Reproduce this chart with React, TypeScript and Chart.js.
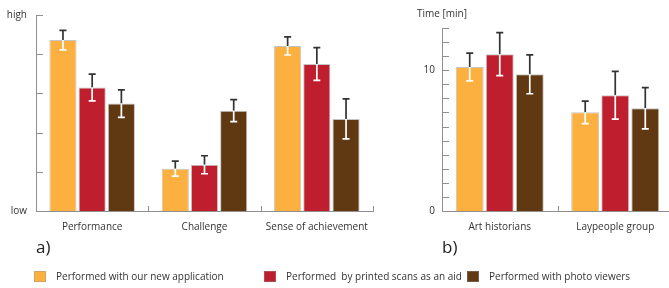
import React, { useEffect, useRef } from 'react';
import { Chart, registerables } from 'chart.js';

Chart.register(...registerables);

// ---------- data ----------
const seriesLabels = [
  'Performed with our new application',
  'Performed  by printed scans as an aid',
  'Performed with photo viewers',
];
const seriesColors = ['#FBB040', '#BE1E2D', '#603913'];

const ratingCategories = ['Performance', 'Challenge', 'Sense of achievement'];
const ratingNewApp = [4.36, 1.08, 4.21];
const ratingNewAppErr = [0.25, 0.19, 0.23];
const ratingScans = [3.15, 1.18, 3.75];
const ratingScansErr = [0.34, 0.23, 0.42];
const ratingViewers = [2.74, 2.56, 2.35];
const ratingViewersErr = [0.35, 0.28, 0.51];
const ratingTickLabels: Record<number, string> = { 0: 'low', 5: 'high' };

const timeCategories = ['Art historians', 'Laypeople group'];
const timeNewApp = [10.23, 7.01];
const timeNewAppErr = [0.99, 0.8];
const timeScans = [11.14, 8.22];
const timeScansErr = [1.53, 1.7];
const timeViewers = [9.71, 7.3];
const timeViewersErr = [1.38, 1.46];
const timeTickLabels: Record<number, string> = { 0: '0', 10: '10' };

// ---------- style ----------
const FONT = "'Open Sans', 'Noto Sans', sans-serif";
const AXIS_COLOR = '#8f8f8f';
const TEXT_COLOR = '#333';
const legendLeft = [34, 264, 467];

Chart.defaults.font.family = FONT;

const errorBarPlugin = {
  id: 'errorBars',
  afterDatasetsDraw(chart: any) {
    const ctx = chart.ctx;
    const yScale = chart.scales.y;
    chart.data.datasets.forEach((ds: any, di: number) => {
      const meta = chart.getDatasetMeta(di);
      meta.data.forEach((bar: any, i: number) => {
        const v = ds.data[i];
        const e = ds.errors[i];
        const x = bar.x;
        const yv = yScale.getPixelForValue(v);
        const yt = yScale.getPixelForValue(v + e);
        const yb = yScale.getPixelForValue(v - e);
        const cap = 3.5;
        ctx.save();
        ctx.lineWidth = 1.7;
        ctx.strokeStyle = '#333';
        ctx.beginPath();
        ctx.moveTo(x, yv);
        ctx.lineTo(x, yt);
        ctx.moveTo(x - cap, yt);
        ctx.lineTo(x + cap, yt);
        ctx.stroke();
        ctx.strokeStyle = '#ffffff';
        ctx.beginPath();
        ctx.moveTo(x, yv);
        ctx.lineTo(x, yb);
        ctx.moveTo(x - cap, yb);
        ctx.lineTo(x + cap, yb);
        ctx.stroke();
        ctx.restore();
      });
    });
  },
};

const innerTicksPlugin = {
  id: 'innerTicks',
  afterDraw(chart: any) {
    const ctx = chart.ctx;
    const { left, bottom } = chart.chartArea;
    const y = chart.scales.y;
    const x = chart.scales.x;
    ctx.save();
    ctx.strokeStyle = AXIS_COLOR;
    ctx.lineWidth = 1;
    ctx.beginPath();
    y.ticks.forEach((t: any) => {
      const py = Math.round(y.getPixelForValue(t.value)) + 0.5;
      ctx.moveTo(left, py);
      ctx.lineTo(left + 7, py);
    });
    const n = chart.data.labels.length;
    for (let i = 0; i < n; i++) {
      const px = Math.round(x.getPixelForValue(i + 0.5)) + 0.5;
      ctx.moveTo(px, bottom);
      ctx.lineTo(px, bottom - 5);
    }
    ctx.stroke();
    ctx.restore();
  },
};

function makeDatasets(values: number[][], errors: number[][]) {
  return values.map((v, i) => ({
    label: seriesLabels[i],
    data: v,
    errors: errors[i],
    backgroundColor: seriesColors[i],
    borderColor: 'rgba(150,150,150,0.55)',
    borderWidth: 1,
    categoryPercentage: 0.78,
    barPercentage: 0.93,
  }));
}

function makeOptions(max: number, labels: Record<number, string>, padding: any, yWidth: number, yPad: number) {
  return {
    responsive: false,
    animation: false,
    layout: { padding },
    plugins: { legend: { display: false }, tooltip: { enabled: false } },
    scales: {
      x: {
        grid: { display: false, drawTicks: false },
        border: { display: true, color: AXIS_COLOR, width: 1 },
        ticks: { padding: 10, font: { size: 10, family: FONT }, color: TEXT_COLOR },
        afterFit: (s: any) => {
          s.height = 44;
        },
      },
      y: {
        min: 0,
        max,
        grid: { display: false, drawTicks: false },
        border: { display: true, color: AXIS_COLOR, width: 1 },
        ticks: {
          stepSize: 1,
          autoSkip: false,
          padding: yPad,
          font: { size: 10, family: FONT },
          color: TEXT_COLOR,
          callback: (v: any) => labels[v] ?? '',
        },
        afterFit: (s: any) => {
          s.width = yWidth;
        },
      },
    },
  };
}

export default function App() {
  const refA = useRef<HTMLCanvasElement>(null);
  const refB = useRef<HTMLCanvasElement>(null);

  useEffect(() => {
    const a = new Chart(refA.current as HTMLCanvasElement, {
      type: 'bar',
      data: {
        labels: ratingCategories,
        datasets: makeDatasets(
          [ratingNewApp, ratingScans, ratingViewers],
          [ratingNewAppErr, ratingScansErr, ratingViewersErr]
        ) as any,
      },
      options: makeOptions(5, ratingTickLabels, { top: 14, right: 27, left: 0, bottom: 0 }, 36, 9) as any,
      plugins: [errorBarPlugin, innerTicksPlugin],
    });
    const b = new Chart(refB.current as HTMLCanvasElement, {
      type: 'bar',
      data: {
        labels: timeCategories,
        datasets: makeDatasets(
          [timeNewApp, timeScans, timeViewers],
          [timeNewAppErr, timeScansErr, timeViewersErr]
        ) as any,
      },
      options: makeOptions(13, timeTickLabels, { top: 28, right: 0, left: 0, bottom: 0 }, 42, 7) as any,
      plugins: [errorBarPlugin, innerTicksPlugin],
    });
    return () => {
      a.destroy();
      b.destroy();
    };
  }, []);

  const textStyle: React.CSSProperties = {
    position: 'absolute',
    fontFamily: FONT,
    color: TEXT_COLOR,
    whiteSpace: 'pre',
  };

  return (
    <div
      style={{
        position: 'absolute',
        left: 0,
        top: 0,
        width: 669,
        height: 288,
        overflow: 'hidden',
        background: '#fff',
      }}
    >
      <canvas ref={refA} width={400} height={255} style={{ position: 'absolute', left: 0, top: 0 }} />
      <canvas ref={refB} width={273} height={255} style={{ position: 'absolute', left: 400, top: 0 }} />
      <div style={{ ...textStyle, left: 417, top: 6, fontSize: 10, lineHeight: '14px' }}>Time [min]</div>
      <div style={{ ...textStyle, left: 36, top: 238, fontSize: 17, lineHeight: '18px', color: '#222' }}>a)</div>
      <div style={{ ...textStyle, left: 442, top: 238, fontSize: 17, lineHeight: '18px', color: '#222' }}>b)</div>
      {seriesLabels.map((lab, i) => (
        <div
          key={lab}
          style={{ position: 'absolute', left: legendLeft[i], top: 271, height: 11, display: 'flex', alignItems: 'center' }}
        >
          <span
            style={{
              display: 'inline-block',
              width: 12,
              height: 11,
              background: seriesColors[i],
              border: '1px solid rgba(150,150,150,0.4)',
              boxSizing: 'border-box',
            }}
          />
          <span style={{ marginLeft: 10, fontFamily: FONT, fontSize: 10, color: TEXT_COLOR, whiteSpace: 'pre', lineHeight: '11px' }}>
            {lab}
          </span>
        </div>
      ))}
    </div>
  );
}
